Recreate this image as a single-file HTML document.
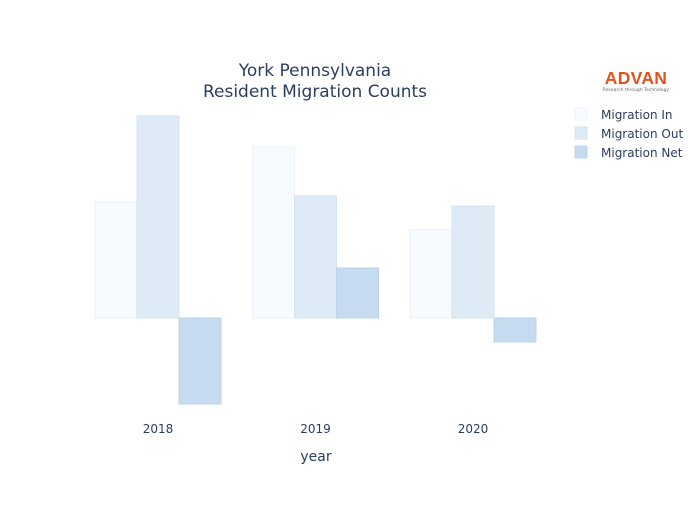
<!DOCTYPE html>
<html><head><style>
body{margin:0;background:#fff}
svg text{font-family:"DejaVu Sans","Liberation Sans",sans-serif}
</style></head><body>
<svg id="c" width="700" height="500">
<text x="315" y="76" text-anchor="middle" font-size="17" fill="#2a3f5f">York Pennsylvania</text>
<text x="315" y="97" text-anchor="middle" font-size="17" fill="#2a3f5f">Resident Migration Counts</text>
<g>
<text x="636" y="84" text-anchor="middle" font-size="17.5" font-weight="bold" fill="#e0531c" style="font-family:'Liberation Sans',sans-serif" letter-spacing="0.3">ADVAN</text>
<text x="636" y="91" text-anchor="middle" font-size="4.5" fill="#666">Research through Technology</text>
</g>
<text x="316" y="461" text-anchor="middle" font-size="14" fill="#2a3f5f">year</text>
<g id="bars"></g><g id="ticks"></g><g id="legend"></g>
</svg>
<script>
const categories=["2018","2019","2020"];
const migrationIn=[116,171,88];
const migrationOut=[202,122,112];
const migrationNet=[-86,50,-24];
const seriesNames=["Migration In","Migration Out","Migration Net"];
const ns="http://www.w3.org/2000/svg";
const fills=["#f7fbff","#deebf7","#c6dbef"];
const strokes=["#eef3fa","#d4e3f2","#bcd3ea"];
const y0=318, pxPer=1;
const yS=v=>y0-v*pxPer;
const xC=i=>158+i*157.5;
const bw=42;
const series=[migrationIn,migrationOut,migrationNet];
const bars=document.getElementById('bars');
series.forEach((s,si)=>{s.forEach((v,i)=>{
 const r=document.createElementNS(ns,'rect');
 const x=xC(i)-1.5*bw+si*bw;
 r.setAttribute('x',x);r.setAttribute('width',bw);
 r.setAttribute('y',Math.min(yS(v),y0));r.setAttribute('height',Math.abs(yS(v)-y0));
 r.setAttribute('fill',fills[si]);r.setAttribute('stroke',strokes[si]);r.setAttribute('stroke-width','1');
 
 
 bars.appendChild(r);
});});
const ticks=document.getElementById('ticks');
categories.forEach((c,i)=>{
 const t=document.createElementNS(ns,'text');
 t.setAttribute('x',xC(i));t.setAttribute('y',433);t.setAttribute('text-anchor','middle');
 t.setAttribute('font-size','12');t.setAttribute('fill','#2a3f5f');t.textContent=c;
 
 
 ticks.appendChild(t);
});
const lg=document.getElementById('legend');
seriesNames.forEach((n,i)=>{
 const g=document.createElementNS(ns,'g');
 
 
 const r=document.createElementNS(ns,'rect');
 r.setAttribute('x',575);r.setAttribute('y',108+i*19);r.setAttribute('width',12);r.setAttribute('height',12);
 r.setAttribute('fill',fills[i]);r.setAttribute('stroke',strokes[i]);
 const t=document.createElementNS(ns,'text');
 t.setAttribute('x',601);t.setAttribute('y',119+i*19);t.setAttribute('font-size','12');t.setAttribute('fill','#2a3f5f');
 t.textContent=n;
 g.appendChild(r);g.appendChild(t);lg.appendChild(g);
});
</script>
</body></html>
